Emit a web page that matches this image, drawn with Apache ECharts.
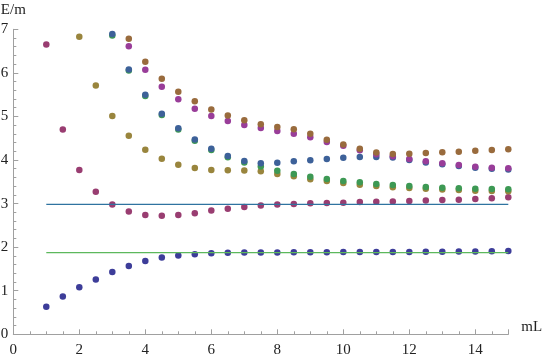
<!DOCTYPE html>
<html><head><meta charset="utf-8">
<script src="https://cdn.jsdelivr.net/npm/echarts@6/dist/echarts.min.js"></script>
<style>html,body{margin:0;padding:0;background:#fff}#c{width:545px;height:359px}</style>
</head><body><div id="c"></div>
<script>
// x positions (mL)
const xs = [1,1.5,2,2.5,3,3.5,4,4.5,5,5.5,6,6.5,7,7.5,8,8.5,9,9.5,10,10.5,11,11.5,12,12.5,13,13.5,14,14.5,15];
const indigo = [0.63,0.87,1.08,1.26,1.43,1.57,1.68,1.76,1.81,1.84,1.86,1.87,1.875,1.88,1.88,1.885,1.885,1.885,1.89,1.89,1.89,1.89,1.89,1.895,1.895,1.9,1.9,1.905,1.91];
const crimson = [6.65,4.70,3.77,3.27,2.98,2.82,2.74,2.72,2.74,2.78,2.84,2.88,2.92,2.955,2.98,2.99,3.005,3.015,3.02,3.035,3.045,3.05,3.06,3.07,3.08,3.09,3.105,3.12,3.145];
const olive = [null,null,6.83,5.71,5.01,4.555,4.235,4.03,3.89,3.815,3.77,3.765,3.76,3.74,3.68,3.625,3.56,3.52,3.47,3.435,3.405,3.375,3.36,3.34,3.325,3.31,3.295,3.29,3.285];
const green = [null,null,null,null,6.86,6.055,5.47,5.035,4.70,4.44,4.23,4.065,3.945,3.85,3.755,3.68,3.617,3.564,3.518,3.488,3.452,3.427,3.404,3.381,3.366,3.351,3.34,3.335,3.33];
const blue = [null,null,null,null,6.89,6.08,5.50,5.06,4.728,4.47,4.256,4.092,3.975,3.925,3.935,3.97,3.995,4.023,4.053,4.069,4.072,4.055,4.0,3.945,3.90,3.862,3.823,3.80,3.785];
const magenta = [null,null,null,null,null,6.61,6.073,5.683,5.394,5.178,5.01,4.896,4.804,4.735,4.666,4.604,4.52,4.414,4.329,4.223,4.13,4.085,4.023,3.97,3.925,3.886,3.847,3.824,3.81];
const brown = [null,null,null,null,null,6.785,6.255,5.865,5.569,5.348,5.16,5.022,4.912,4.82,4.755,4.708,4.604,4.467,4.355,4.26,4.172,4.138,4.145,4.161,4.177,4.191,4.214,4.23,4.246];
// horizontal reference levels
const lineX = [1, 15];
const blueLevel = 2.984;
const greenLevel = 1.875;
const xTickLabels = [0,2,4,6,8,10,12,14];
const yTickLabels = [0,1,2,3,4,5,6,7];

const pts = (ys) => xs.map((x,i) => ys[i] == null ? null : [x, ys[i]]).filter(p => p);
const font = 'Liberation Serif';
const axisGray = '#a0a0a0';

const scatter = (name, ys, color) => ({
  name, type: 'scatter', data: pts(ys), symbol: 'circle', symbolSize: 6.5,
  itemStyle: { color, opacity: 1 }, silent: true
});

const chart = echarts.init(document.getElementById('c'), null, {renderer: 'canvas'});
chart.setOption({
  animation: false,
  backgroundColor: '#fff',
  textStyle: { fontFamily: font },
  grid: { left: 13.3, top: 29.3, width: 495, height: 305, containLabel: false, outerBoundsMode: 'none' },
  xAxis: [{
    type: 'value', min: 0, max: 15, interval: 2, position: 'bottom',
    name: 'mL', nameLocation: 'end', nameGap: 13,
    nameTextStyle: { fontFamily: font, fontSize: 15, color: '#222', verticalAlign: 'bottom', align: 'left' },
    axisLine: { show: true, onZero: false, lineStyle: { color: axisGray, width: 1 } },
    axisTick: { show: true, inside: true, length: 5, lineStyle: { color: axisGray } },
    axisLabel: { fontFamily: font, fontSize: 15, color: '#222', margin: 8,
      formatter: v => xTickLabels.indexOf(v) >= 0 ? String(v) : '' },
    splitLine: { show: false }
  }, {
    type: 'value', min: 0, max: 15, interval: 0.5, position: 'bottom',
    axisLine: { show: false, onZero: false },
    axisTick: { show: true, inside: true, length: 3, lineStyle: { color: axisGray } },
    axisLabel: { show: false }, splitLine: { show: false }
  }],
  yAxis: {
    type: 'value', min: 0, max: 7, interval: 1,
    name: 'E/m', nameLocation: 'end', nameGap: 12,
    nameTextStyle: { fontFamily: font, fontSize: 15, color: '#222' },
    axisLine: { show: true, onZero: false, lineStyle: { color: axisGray, width: 1 } },
    axisTick: { show: true, inside: true, length: 5, lineStyle: { color: axisGray } },
    minorTick: { show: true, splitNumber: 5, length: 3, lineStyle: { color: axisGray } },
    axisLabel: { fontFamily: font, fontSize: 15, color: '#222', margin: 5,
      formatter: v => yTickLabels.indexOf(v) >= 0 ? String(v) : '' },
    splitLine: { show: false }
  },
  series: [
    { type: 'line', data: lineX.map(x => [x, blueLevel]), symbol: 'none', silent: true,
      lineStyle: { color: '#2f73a0', width: 1.2 } },
    { type: 'line', data: lineX.map(x => [x, greenLevel]), symbol: 'none', silent: true,
      lineStyle: { color: '#5cb85c', width: 1.2 } },
    scatter('indigo', indigo, '#3d3d99'),
    scatter('crimson', crimson, '#993d71'),
    scatter('olive', olive, '#99853d'),
    scatter('green', green, '#3d9954'),
    scatter('blue', blue, '#3d6199'),
    scatter('magenta', magenta, '#993d99'),
    scatter('brown', brown, '#996b3d')
  ]
});
</script></body></html>
